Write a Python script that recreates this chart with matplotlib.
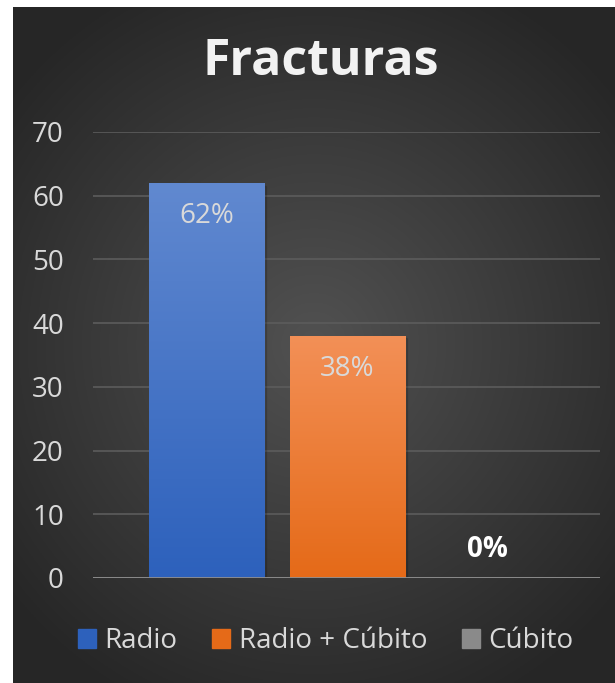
import matplotlib
matplotlib.use('Agg')
import matplotlib.pyplot as plt
import matplotlib.patches as mpatches
import numpy as np

categories = ['Radio', 'Radio + Cúbito', 'Cúbito']
values = [62, 38, 0]
labels = ['62%', '38%', '0%']
yticks = [0, 10, 20, 30, 40, 50, 60, 70]

# gradient colours (top, bottom) per series
bar_top = ['#6189d0', '#f39057', '#b0b0b0']
bar_bottom = ['#2d61bc', '#e56a18', '#8a8a8a']

W, H = 615, 683
fig = plt.figure(figsize=(W / 100, H / 100), dpi=100)
fig.patch.set_facecolor('white')

# dark radial background panel
bg = fig.add_axes([13 / W, 0, 1 - 13 / W, 1 - 7 / H])
bg.set_axis_off()
yy, xx = np.mgrid[0:1:400j, 0:1:400j]
r = np.sqrt((xx - 0.5) ** 2 + ((yy - 0.5) * 1.1) ** 2)
shade = np.clip(0.32 - 0.26 * r, 0.15, 0.33)
bg.imshow(np.dstack([shade] * 3), extent=[0, 1, 0, 1], aspect='auto')
bg.set_xlim(0, 1)
bg.set_ylim(0, 1)

ax = fig.add_axes([93 / W, 105 / H, (600 - 93) / W, (578 - 132) / H])
ax.patch.set_alpha(0)
x = np.arange(len(categories))
bars = ax.bar(x, values, width=0.82, color='none', zorder=3)
ax.set_xlim(-0.81, 2.8)
ax.set_ylim(0, 70)
ax.set_yticks(yticks)
ax.set_xticks([])
ax.tick_params(axis='y', length=0, pad=21, labelsize=20, labelcolor='#d9d9d9')
for lab in ax.get_yticklabels():
    lab.set_fontfamily('Open Sans')
ax.grid(axis='y', color='#5c5c5c', linewidth=1.2, zorder=0)
for s in ax.spines.values():
    s.set_visible(False)
ax.axhline(0, color='#8f8f8f', linewidth=2, zorder=5)

grad = np.linspace(0, 1, 256).reshape(-1, 1)
for i, b in enumerate(bars):
    if b.get_height() <= 0:
        continue
    c1 = np.array(matplotlib.colors.to_rgb(bar_top[i]))
    c2 = np.array(matplotlib.colors.to_rgb(bar_bottom[i]))
    img = c1[None, None, :] * (1 - grad[:, :, None]) + c2[None, None, :] * grad[:, :, None]
    x0, w, h = b.get_x(), b.get_width(), b.get_height()
    # soft shadow
    sh = mpatches.Rectangle((x0 + 0.015, 0), w, h - 0.4, color='black', alpha=0.12, zorder=2)
    ax.add_patch(sh)
    im = ax.imshow(img, extent=[x0, x0 + w, 0, h], aspect='auto', zorder=3)
    im.set_clip_path(b)

for i, b in enumerate(bars):
    cx = b.get_x() + b.get_width() / 2
    if values[i] > 0:
        ax.text(cx, values[i] - 5.2, labels[i], ha='center', va='center',
                fontsize=20, color='#d9d9d9', family='Open Sans', zorder=6)
    else:
        ax.text(cx, values[i] + 4.5, labels[i], ha='center', va='center',
                fontsize=20, color='white', fontweight='bold', family='Open Sans', zorder=6)

fig.text(0.522, 1 - 62 / H, 'Fracturas', ha='center', va='center', fontsize=36,
         fontweight='bold', color='#f2f2f2', family='Open Sans')

handles = [mpatches.Patch(color=bar_bottom[i], label=categories[i]) for i in range(len(categories))]
fig.legend(handles=handles, loc='center', bbox_to_anchor=(0.53, 1 - 641 / H), ncol=3,
           frameon=False, labelcolor='#d9d9d9', handlelength=0.65,
           handleheight=0.65, handletextpad=0.3, columnspacing=1.25,
           prop={'family': 'Open Sans', 'size': 20})

fig.savefig('out.png', dpi=100, facecolor=fig.get_facecolor())
